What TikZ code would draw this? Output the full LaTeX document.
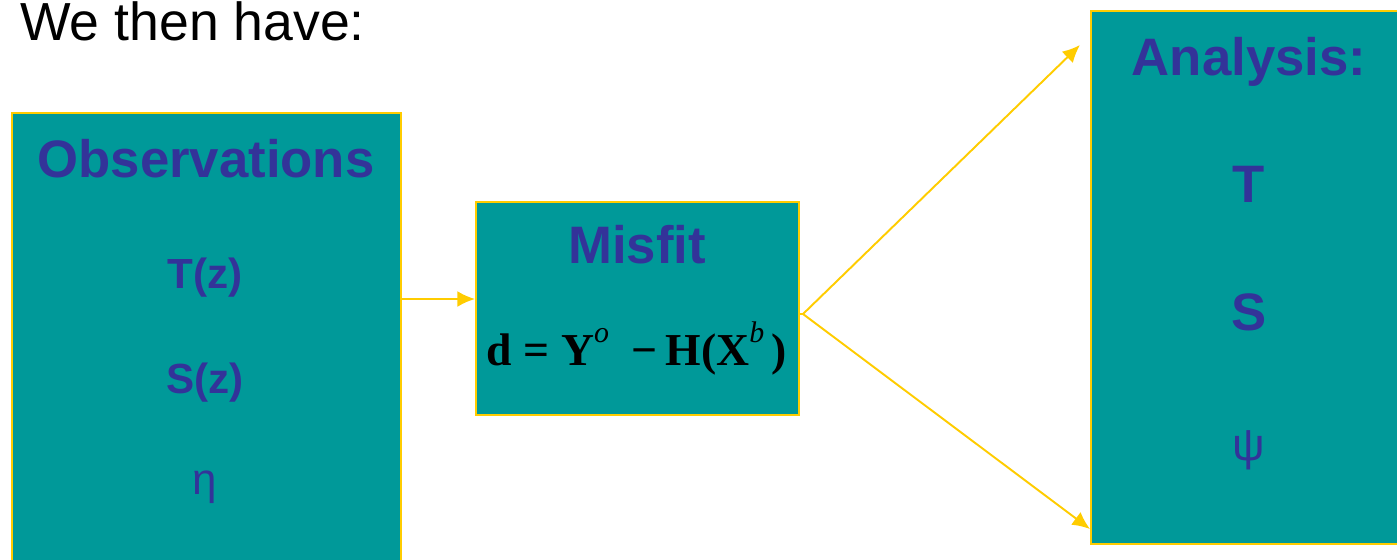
\documentclass[tikz,border=0pt]{standalone}
\usepackage{fontspec}
\setmainfont{Liberation Sans}
\newfontfamily\formulafont{Liberation Serif}
\usepackage{tikz}
\usetikzlibrary{
  arrows.meta,
  calc,
  positioning
}
\definecolor{boxteal}{HTML}{009999}
\definecolor{boxedge}{HTML}{FFCC00}
\definecolor{labelblue}{HTML}{333399}
\newcommand{\supit}[1]{\raisebox{0.5em}{\fontsize{17}{20}\selectfont\mdseries\itshape #1}}
\tikzset{
  panel/.style={draw=boxedge,line width=1.2pt,fill=boxteal,inner sep=0pt,anchor=north west},
  heading/.style={text=labelblue,font=\fontsize{30}{36}\selectfont\bfseries,anchor=base},
  item/.style={text=labelblue,font=\fontsize{24}{29}\selectfont\bfseries,anchor=base},
  flow/.style={draw=boxedge,line width=1.1pt,-{Latex[length=10pt,width=9pt]}}
}

\begin{document}
\begin{tikzpicture}[x=0.02cm,y=-0.02cm]
  \useasboundingbox (0,0) rectangle (1397,559);
  \clip (0,0) rectangle (1397,559);
  \node[anchor=base west,inner sep=0pt,font=\fontsize{30.5}{36}\selectfont] (intro) at (20,40) {We then have:};
  % the three panels
  \node[panel,minimum width=7.78cm,minimum height=9.6cm] (obs) at (11,112) {};
  \node[panel,minimum width=6.46cm,minimum height=4.26cm] (misfit) at (475,201) {};
  \node[panel,minimum width=6.4cm,minimum height=10.66cm] (ana) at (1090,10) {};
  % observations
  \node[heading] (obstitle) at (206,177) {Observations};
  \node[item] (tz) at (205,288) {T(z)};
  \node[item] (sz) at (205,393) {S(z)};
  \node[item,font=\fontsize{25}{30}\selectfont] (eta) at (205,494) {η};
  % misfit
  \node[heading] (mistitle) at (637,263) {Misfit};
  \node[anchor=base,font=\fontsize{26}{31}\formulafont\bfseries] (dform) at (637,365)
    {d = Y\supit{o}\ \ −\,H(X\supit{b}\,)};
  % analysis
  \node[heading] (anatitle) at (1249,75) {Analysis:};
  \node[heading] (tana) at (1249,202) {T};
  \node[heading] (sana) at (1249,330) {S};
  \node[text=labelblue,font=\fontsize{26}{31}\selectfont] (psi) at (1249,450) {ψ};
  % connectors
  \coordinate (fork) at (803,314);
  \draw[flow] (obs.east |- 0,299) -- (misfit.west |- 0,299);
  \draw[boxedge,line width=1.1pt] (misfit.east |- fork) -- (fork);
  \draw[flow] (fork) -- ([shift={(-10,35)}]ana.north west);
  \draw[flow] (fork) -- ([shift={(0,-16)}]ana.south west);
\end{tikzpicture}
\end{document}
